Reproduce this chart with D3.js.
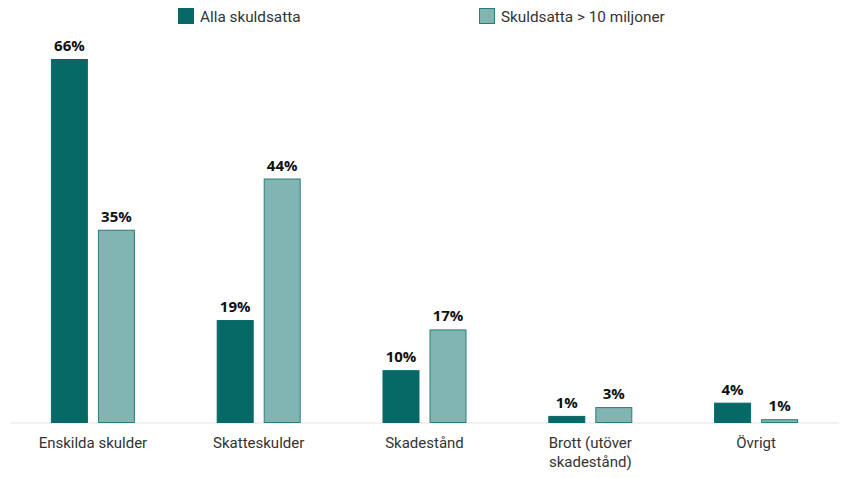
<!DOCTYPE html>
<html><head><meta charset="utf-8">
<script src="https://cdn.jsdelivr.net/npm/d3@7"></script>
<style>body{margin:0;background:#fff;}svg{display:block;}</style>
</head><body><svg id="c" width="849" height="478"></svg>
<script>
const categories = ["Enskilda skulder", "Skatteskulder", "Skadestånd", "Brott (utöver\nskadestånd)", "Övrigt"];
const seriesNames = ["Alla skuldsatta", "Skuldsatta > 10 miljoner"];
const allaValues = [66, 18.6, 9.5, 1.2, 3.6];
const storaValues = [35, 44.3, 16.9, 2.8, 0.6];
const allaLabels = ["66%", "19%", "10%", "1%", "4%"];
const storaLabels = ["35%", "44%", "17%", "3%", "1%"];

const fills = ["#076966", "#80b5b2"];
const strokes = ["#076966", "#2b7d79"];

const svg = d3.select("#c");
const baseY = 422.5;
const y = d3.scaleLinear().domain([0, 66]).range([baseY, 59]);
const x0 = d3.scaleBand().domain(categories).range([10, 839]).padding(0);
const x1 = d3.scaleBand().domain(seriesNames).range([0, 84]).paddingInner(0.213);

const data = categories.map((c, i) => ({
  cat: c,
  vals: [
    {s: seriesNames[0], v: allaValues[i], lab: allaLabels[i], k: 0},
    {s: seriesNames[1], v: storaValues[i], lab: storaLabels[i], k: 1}
  ]
}));

// axis line
svg.append("line").attr("x1", 10).attr("x2", 839).attr("y1", baseY + 0.5).attr("y2", baseY + 0.5)
  .attr("stroke", "#e3e3e3").attr("stroke-width", 1);

const g = svg.selectAll("g.grp").data(data).join("g")
  .attr("transform", d => `translate(${x0(d.cat) + x0.bandwidth()/2 - 42},0)`);

g.selectAll("rect").data(d => d.vals).join("rect")
  .attr("x", d => x1(d.s) + 0.5)
  .attr("y", d => y(d.v) + 0.5)
  .attr("width", x1.bandwidth() - 1)
  .attr("height", d => Math.max(0, baseY - y(d.v) - 0.5))
  .attr("fill", d => fills[d.k])
  .attr("stroke", d => strokes[d.k])
  .attr("stroke-width", 1);

g.selectAll("text.val").data(d => d.vals).join("text")
  .attr("class", "val")
  .attr("x", d => x1(d.s) + x1.bandwidth()/2)
  .attr("y", d => y(d.v) - 8)
  .attr("text-anchor", "middle")
  .attr("font-family", "'Open Sans', sans-serif")
  .attr("font-weight", "bold")
  .attr("font-size", 15)
  .attr("fill", "#111")
  .text(d => d.lab);

// category labels
svg.selectAll("text.cat").data(categories).join("text")
  .attr("class", "cat")
  .attr("x", d => x0(d) + x0.bandwidth()/2)
  .attr("y", 448)
  .attr("text-anchor", "middle")
  .attr("font-family", "Roboto, sans-serif")
  .attr("font-size", 15)
  .attr("fill", "#333")
  .each(function(d) {
    const lines = d.split("\n");
    d3.select(this).selectAll("tspan").data(lines).join("tspan")
      .attr("x", x0(d) + x0.bandwidth()/2)
      .attr("dy", (l, i) => i === 0 ? 0 : 19)
      .text(l => l);
  });

// legend
const legX = [178, 479];
const leg = svg.selectAll("g.leg").data(seriesNames).join("g")
  .attr("transform", (d, i) => `translate(${legX[i]},8)`);
leg.append("rect").attr("x", 0.5).attr("y", 0.5).attr("width", 15).attr("height", 15)
  .attr("fill", (d, i) => fills[i]).attr("stroke", (d, i) => strokes[i]);
leg.append("text").attr("x", 22).attr("y", 14)
  .attr("font-family", "Roboto, sans-serif").attr("font-size", 15.3).attr("fill", "#333")
  .text(d => d);
</script></body></html>
